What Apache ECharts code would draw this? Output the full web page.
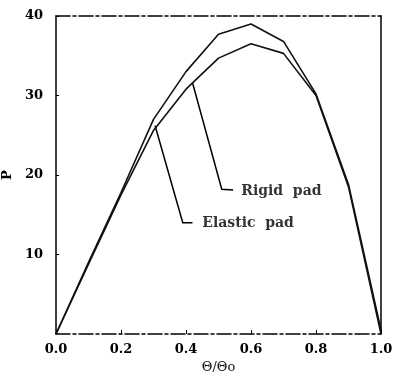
<!DOCTYPE html>
<html>
<head>
<meta charset="utf-8">
<script src="https://cdn.jsdelivr.net/npm/echarts@6/dist/echarts.min.js"></script>
<style>
  html, body { margin: 0; padding: 0; background: #fff; }
  #chart { width: 395px; height: 376px; }
</style>
</head>
<body>
<div id="chart"></div>
<script>
// theta / theta0 sample positions
const thetaRatio = [0, 0.1, 0.2, 0.3, 0.4, 0.5, 0.6, 0.7, 0.8, 0.9, 1.0];
// upper curve (leader "Elastic pad" points at it)
const upperP = [0, 9, 17.8, 27, 33, 37.7, 39, 36.8, 30.2, 18.8, 0.5];
// lower curve (leader "Rigid pad" points at it)
const lowerP = [0, 8.8, 17.5, 25.6, 30.8, 34.7, 36.5, 35.3, 30, 18.5, 0];
const xTicks = [0, 0.2, 0.4, 0.6, 0.8, 1.0];
const yTicks = [10, 20, 30, 40];

// annotation leaders, in data units: [end near text, elbow, tip on curve]
const rigidLeader = [[0.545, 18.1], [0.51, 18.2], [0.42, 31.6]];
const elasticLeader = [[0.42, 14.0], [0.39, 14.0], [0.305, 26.2]];
const rigidText = { x: 0.57, y: 18.0, label: 'Rigid  pad' };
const elasticText = { x: 0.45, y: 13.9, label: 'Elastic  pad' };

const font = 'DejaVu Serif';
const chart = echarts.init(document.getElementById('chart'));

function pairs(xs, ys) { return xs.map((x, i) => [x, ys[i]]); }

const option = {
  animation: false,
  backgroundColor: '#fff',
  grid: { left: 56, right: 14, top: 16, bottom: 42, outerBoundsMode: 'none', containLabel: false },
  xAxis: [{
    type: 'value', min: 0, max: 1, interval: 0.2,
    name: 'Θ/Θo', nameLocation: 'middle', nameGap: 27,
    nameTextStyle: { fontFamily: font, fontSize: 13, color: '#111' },
    axisLine: { onZero: false, lineStyle: { color: '#000', width: 1.5, type: [14, 3, 3, 3] } },
    axisTick: { inside: true, length: 4, lineStyle: { color: '#000' } },
    axisLabel: { fontFamily: font, fontWeight: 'bold', fontSize: 13, color: '#000', margin: 9,
      formatter: v => v.toFixed(1) },
    splitLine: { show: false }
  }, {
    type: 'value', position: 'top', min: 0, max: 1,
    axisLine: { show: true, onZero: false, lineStyle: { color: '#000', width: 1.5, type: [14, 3, 3, 3] } },
    axisTick: { show: false }, axisLabel: { show: false }, splitLine: { show: false }
  }],
  yAxis: [{
    type: 'value', min: 0, max: 40, interval: 10,
    name: 'P', nameLocation: 'middle', nameGap: 40, nameRotate: 90,
    nameTextStyle: { fontFamily: font, fontWeight: 'bold', fontSize: 13, color: '#000' },
    axisLine: { show: true, onZero: false, lineStyle: { color: '#000', width: 1.5 } },
    axisTick: { inside: true, length: 3, lineStyle: { color: '#000' } },
    axisLabel: { fontFamily: font, fontWeight: 'bold', fontSize: 13, color: '#000', margin: 13,
      showMinLabel: false, formatter: v => yTicks.includes(v) ? String(v) : '' },
    splitLine: { show: false }
  }, {
    type: 'value', position: 'right', min: 0, max: 40,
    axisLine: { show: true, onZero: false, lineStyle: { color: '#000', width: 1.5 } },
    axisTick: { show: false }, axisLabel: { show: false }, splitLine: { show: false }
  }],
  series: [
    {
      name: 'upper', type: 'line', data: pairs(thetaRatio, upperP),
      showSymbol: false, lineStyle: { color: '#111', width: 1.6 }
    },
    {
      name: 'lower', type: 'line', data: pairs(thetaRatio, lowerP),
      showSymbol: false, lineStyle: { color: '#111', width: 1.6 }
    },
    {
      type: 'lines', coordinateSystem: 'cartesian2d', polyline: true,
      symbol: ['none', 'arrow'], symbolSize: 7,
      lineStyle: { color: '#000', width: 1.5, opacity: 1 },
      data: [{ coords: rigidLeader }, { coords: elasticLeader }]
    },
    {
      type: 'scatter', symbolSize: 0,
      data: [[rigidText.x, rigidText.y, rigidText.label], [elasticText.x, elasticText.y, elasticText.label]],
      label: {
        show: true, position: 'right', distance: 0,
        formatter: p => p.data[2],
        fontFamily: font, fontWeight: 'bold', fontSize: 14, color: '#000'
      }
    }
  ]
};
chart.setOption(option);
</script>
</body>
</html>
